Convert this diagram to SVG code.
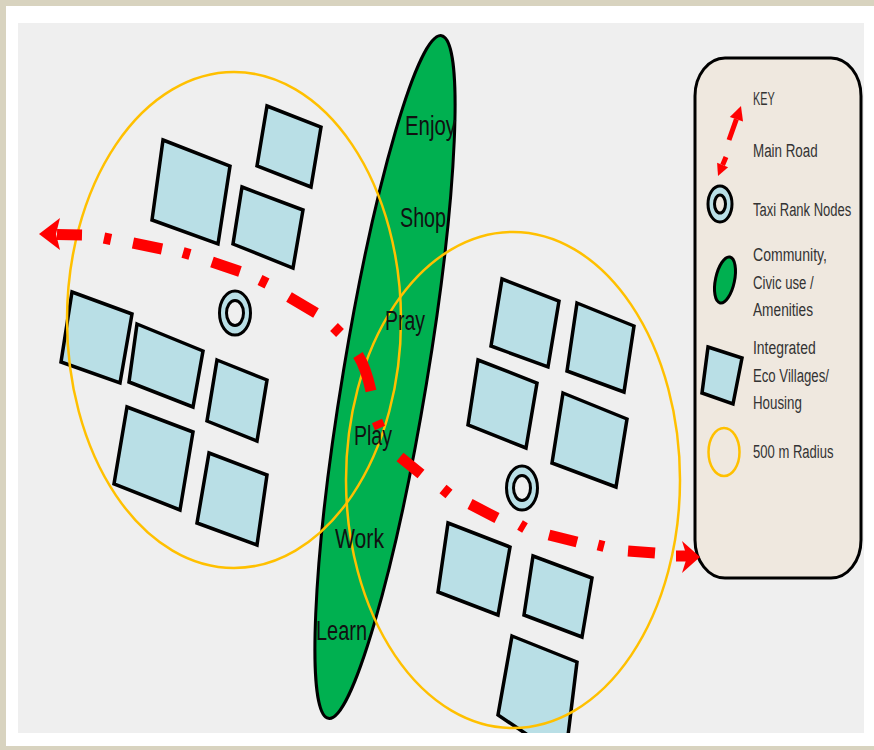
<svg xmlns="http://www.w3.org/2000/svg" width="874" height="750" viewBox="0 0 874 750">
<defs>
<style>
.house{fill:#b9dfe6;stroke:#000;stroke-width:3.5;stroke-linejoin:miter}
.radius{fill:none;stroke:#ffc000;stroke-width:2.5}
.amen{fill:#00b050;stroke:#000;stroke-width:3}
.taxi-o{fill:#b9dfe6;stroke:#000;stroke-width:3}
.road{fill:none;stroke:#ff0000;stroke-width:11;stroke-linecap:butt}
.lbl{font-family:"Liberation Sans",Arial,sans-serif;font-size:27px;fill:#111}
.key{font-family:"Liberation Sans",Arial,sans-serif;font-size:19px;fill:#333}
</style>
<clipPath id="panel"><rect x="18" y="23" width="846" height="710"/></clipPath>
</defs>
<rect x="0" y="0" width="874" height="750" fill="#d8d3bf"/>
<rect x="6" y="6" width="868" height="740" fill="#ffffff"/>
<rect x="18" y="23" width="846" height="710" fill="#efefef"/>

<g clip-path="url(#panel)">
<g id="amenities-spine">
<ellipse class="amen" cx="385" cy="377" rx="42" ry="346" transform="rotate(9.4 385 377)"/>
</g>

<g id="left-village">
<polygon id="h1" class="house" points="267,106 321,127 311,187 257,166"/>
<polygon id="h2" class="house" points="163,140 230,166 218,244 152,220"/>
<polygon id="h3" class="house" points="242,187 303,210 293,268 233,244"/>
<polygon id="h4" class="house" points="72,292 132,314 120,383 61,362"/>
<polygon id="h5" class="house" points="137,324 203,351 193,407 129,382"/>
<polygon id="h6" class="house" points="217,360 267,380 257,441 207,421"/>
<polygon id="h7" class="house" points="127,407 193,432 180,510 114,484"/>
<polygon id="h8" class="house" points="209,453 267,475 257,545 197,523"/>
<g id="taxi-left">
<ellipse class="taxi-o" cx="235" cy="313" rx="15.5" ry="22"/>
<ellipse cx="235" cy="313" rx="8.5" ry="12.5" fill="#efefef" stroke="#000" stroke-width="3"/>
</g>
</g>

<g id="right-village">
<polygon id="h9" class="house" points="502,279 559,301 548,367 491,346"/>
<polygon id="h10" class="house" points="577,303 634,326 624,392 567,371"/>
<polygon id="h11" class="house" points="478,360 537,383 526,448 468,425"/>
<polygon id="h12" class="house" points="563,393 627,419 616,487 552,463"/>
<polygon id="h13" class="house" points="448,523 510,547 498,615 438,592"/>
<polygon id="h14" class="house" points="533,556 592,578 582,637 524,615"/>
<polygon id="h15" class="house" points="512,636 577,662 565,760 498,715"/>
<g id="taxi-right">
<ellipse class="taxi-o" cx="522" cy="488" rx="15.5" ry="22"/>
<ellipse cx="522" cy="488" rx="8.5" ry="12.5" fill="#efefef" stroke="#000" stroke-width="3"/>
</g>
</g>

<g id="radius-left"><ellipse class="radius" cx="234" cy="320" rx="167" ry="248"/></g>
<g id="radius-right"><ellipse class="radius" cx="513" cy="480" rx="167" ry="248"/></g>
</g>

<g id="legend">
<rect x="695" y="58" width="166" height="520" rx="30" ry="38" fill="#efe8df" stroke="#000" stroke-width="3"/>
<text class="key" transform="translate(753,105) scale(0.66,1)" textLength="33" lengthAdjust="spacingAndGlyphs">KEY</text>
<path d="M736.4,119.2 L729,140 M722.6,165 L726,157" fill="none" stroke="#ff0000" stroke-width="5"/>
<polygon points="741,106 743,121.5 729.8,116.9" fill="#ff0000"/>
<polygon points="718,176 728.1,167.3 717.1,162.7" fill="#ff0000"/>
<text class="key" transform="translate(753,157) scale(0.66,1)" textLength="98" lengthAdjust="spacingAndGlyphs">Main Road</text>
<ellipse class="taxi-o" cx="720" cy="204" rx="12" ry="18"/>
<ellipse cx="720" cy="204" rx="5.5" ry="9" fill="#efe8df" stroke="#000" stroke-width="3"/>
<text class="key" transform="translate(753,216) scale(0.66,1)" textLength="149" lengthAdjust="spacingAndGlyphs">Taxi Rank Nodes</text>
<ellipse class="amen" cx="725" cy="280" rx="9.5" ry="23.5" transform="rotate(12 725 280)"/>
<text class="key" transform="translate(753,261) scale(0.66,1)" textLength="112" lengthAdjust="spacingAndGlyphs">Community,</text>
<text class="key" transform="translate(753,289) scale(0.66,1)" textLength="92" lengthAdjust="spacingAndGlyphs">Civic use /</text>
<text class="key" transform="translate(753,316) scale(0.66,1)" textLength="91" lengthAdjust="spacingAndGlyphs">Amenities</text>
<polygon class="house" points="708,347 742,358 733,404 702,393"/>
<text class="key" transform="translate(753,354) scale(0.66,1)" textLength="95" lengthAdjust="spacingAndGlyphs">Integrated</text>
<text class="key" transform="translate(753,382) scale(0.66,1)" textLength="115" lengthAdjust="spacingAndGlyphs">Eco Villages/</text>
<text class="key" transform="translate(753,409) scale(0.66,1)" textLength="74" lengthAdjust="spacingAndGlyphs">Housing</text>
<ellipse class="radius" cx="724" cy="452" rx="15.5" ry="24" stroke-width="3"/>
<text class="key" transform="translate(753,458) scale(0.66,1)" textLength="122" lengthAdjust="spacingAndGlyphs">500 m Radius</text>
</g>

<g id="connectors">
<g id="main-road">
<path class="road" d="M57,234.5 L82,235 M104,238 L111,239.5 M133,243 L162,249 M183,252.5 L190,254.5 M212,262 L240,271.5 M260,280 L267,283.5 M289,297 L316,313 M334,327 L340,333 M358,355 Q366,368 371,391 M377,421 L380,428 M400,457 L421,474 M443,489 L449,494 M470,504 L497,518 M520,525 L525,528 M549,535 L577,542 M598,545 L604,546.5 M628,551 L655,553 M676,556 L689,556"/>
<polygon points="39,234 60,218 56,234 60,250" fill="#ff0000"/>
<polygon points="700,557 682,541 687,557 682,573" fill="#ff0000"/>
</g>
</g>

<g id="amenity-labels">
<text class="lbl" x="405" y="135" textLength="51" lengthAdjust="spacingAndGlyphs">Enjoy</text>
<text class="lbl" x="400" y="227" textLength="46" lengthAdjust="spacingAndGlyphs">Shop</text>
<text class="lbl" x="385" y="330" textLength="40" lengthAdjust="spacingAndGlyphs">Pray</text>
<text class="lbl" x="354" y="445" textLength="38" lengthAdjust="spacingAndGlyphs">Play</text>
<text class="lbl" x="335" y="548" textLength="49" lengthAdjust="spacingAndGlyphs">Work</text>
<text class="lbl" x="316" y="640" textLength="51" lengthAdjust="spacingAndGlyphs">Learn</text>
</g>
</svg>
